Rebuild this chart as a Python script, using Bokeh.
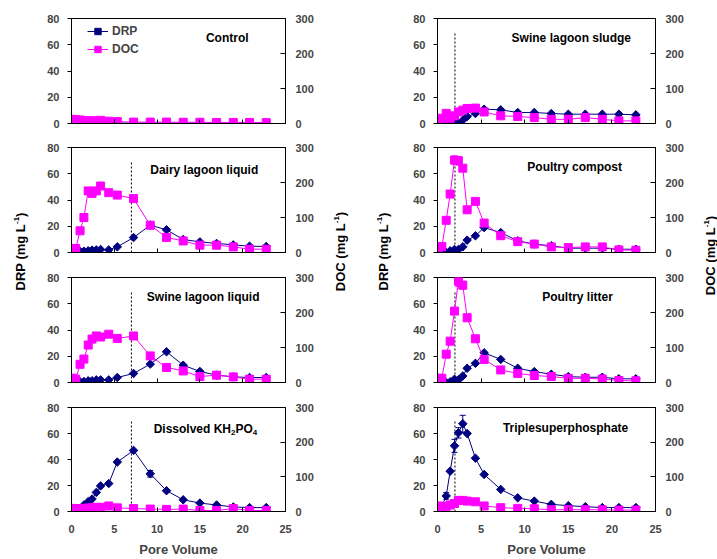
import math
from bokeh.plotting import figure
from bokeh.models import (Range1d, LinearAxis, FixedTicker, Label, Legend, LegendItem,
                          Whisker, ColumnDataSource, TeeHead)
from bokeh.layouts import row, column
from bokeh.embed import file_html
from bokeh.resources import INLINE

FONT = "Liberation Sans"
NAVY = "#000080"
MAG = "#FF00FF"

# ---------------- data ----------------
pore_volume = [0.1, 0.5, 1.0, 1.45, 1.95, 2.4, 2.9, 3.4, 4.35, 5.35, 7.25, 9.2, 11.1,
               13.05, 15.0, 16.95, 18.9, 20.8, 22.75]

drp_control = [0.8, 0.3, 0.3, 0.3, 0.3, 0.3, 0.3, 0.3, 0.3, 0.3, 0.3, 0.3, 0.3, 0.3, 0.3, 0.3, 0.3, 0.3, 0.3]
doc_control = [12, 11, 10, 8, 8, 7.5, 7.5, 9, 6.5, 5.5, 4, 4, 4, 3.5, 3.5, 3, 3, 3, 2.5]

drp_sludge = [1.5, 0.8, 0, 0, 0.5, 0.3, 2.5, 5.3, 7.6, 10.9, 10.4, 8.4, 8.4, 7.6, 7.1, 7.1, 7.1, 7.1, 6.6]
doc_sludge = [15, 12, 29, 15, 22, 33, 38, 43, 44, 33, 22, 20, 17, 12, 12, 17, 12, 7.5, 7.5]

drp_dairy = [1.3, 0.5, 0.8, 1.0, 1.3, 1.8, 2.0, 2.3, 2.0, 4.3, 11.4, 20.8, 17.3, 9.9, 8.1, 6.9, 5.8, 4.8, 4.6]
doc_dairy = [11.5, 11.5, 62, 100, 176, 169, 176, 190, 171, 164, 154, 78, 43, 33, 21, 21, 16, 9.5, 9.5]

drp_compost = [1.3, 0.5, 0, 1.3, 2.3, 2.3, 4.3, 9.4, 12.7, 19, 15.2, 8.9, 6.4, 5.1, 3.3, 3.3, 3.3, 2.5, 2.5]
doc_compost = [14, 17, 92, 167, 264, 262, 241, 122, 146, 84, 48, 31, 24, 16, 14, 16, 16, 7.5, 6.5]
doc_compost_err = [0, 0, 0, 0, 12, 12, 0, 0, 0, 0, 0, 0, 0, 0, 0, 0, 0, 0, 0]

drp_swine_liq = [1.3, 0, 0.5, 0.8, 1.3, 1.3, 2, 2, 2, 3.8, 6.9, 14, 23.4, 13.2, 8.4, 5.6, 4.3, 3.8, 3.8]
doc_swine_liq = [12.4, 9.5, 52, 67, 107, 124, 133, 130, 138, 126, 133, 76, 43, 33, 17, 21, 16, 9.5, 9.5]

drp_litter = [1.5, 0.75, 0, 0.5, 2.5, 2, 5, 10.8, 14.6, 22.6, 17.6, 10.8, 8.3, 6.3, 4.5, 4, 4, 2.8, 2.8]
doc_litter = [12, 12, 81, 118, 204, 289, 278, 185, 125, 66, 36, 26, 20, 17, 12, 12, 10, 5.7, 4.7]
doc_litter_err = [0, 0, 0, 0, 8, 15, 11, 10, 0, 0, 0, 0, 0, 0, 0, 0, 0, 0, 0]

drp_kh2po4 = [0.5, 1, 2.5, 5, 7.6, 9.6, 14.7, 19.7, 21.5, 38, 47, 29, 16, 9, 6.5, 5, 3.5, 3, 3]
doc_kh2po4 = [9, 8, 8, 9, 10, 11, 12, 12, 16, 10.5, 8.5, 7, 6, 7, 3, 3, 8.5, 3, 3]
drp_kh2po4_err = [0, 0, 0, 0, 0, 0, 0, 0, 0, 0, 0, 2.5, 0, 0, 0, 0, 0, 0, 0]

drp_tsp = [0.5, 4, 12, 31, 50.5, 60.5, 67.5, 60, 41, 28.5, 17, 10.5, 8, 5.5, 4.5, 3.7, 3, 3, 3]
doc_tsp = [16, 14, 15, 19, 23, 32, 32, 30, 28, 16, 11, 9, 8, 5, 5, 5, 5, 4, 4]
drp_tsp_err = [0, 0, 2.5, 0, 5, 4, 6.5, 0, 0, 0, 0, 0, 0, 0, 0, 0, 0, 0, 0]

zeros = [0] * len(pore_volume)

panel_names = ["Control", "Swine lagoon sludge", "Dairy lagoon liquid", "Poultry compost",
               "Swine lagoon liquid", "Poultry litter", "Dissolved KH2PO4", "Triplesuperphosphate"]
# pore volume of the dotted reference line in each panel (None = no line)
dotted_pv = [None, 2.0, 7.0, 2.0, 7.0, 2.0, 7.0, 2.0]
dotted_top = 70

x_ticks = [0, 5, 10, 15, 20, 25]
drp_ticks = [0, 20, 40, 60, 80]
doc_ticks = [0, 100, 200, 300]

# ---------------- helpers ----------------
AW = {"D": 722, "R": 722, "P": 667, "O": 778, "C": 722, " ": 278, "(": 333, ")": 333,
      "m": 889, "g": 611, "L": 611, "-": 333, "1": 556, "K": 722, "H": 722, "i": 278,
      "s": 556, "o": 611, "l": 278, "v": 556, "e": 556, "d": 611, "2": 556, "4": 556}


def tw(s, size):
    return sum(AW.get(c, 600) for c in s) * size / 1000.0


def style_text(lbl, size):
    lbl.text_font = FONT
    lbl.text_font_style = "bold"
    lbl.text_font_size = f"{size}px"
    lbl.text_color = "black"
    return lbl


def make_panel(idx, drp, doc, drp_err, doc_err, width, height, bl, br, bt, bb, bottom, legend,
               title_xy):
    p = figure(width=width, height=height, x_range=Range1d(0, 25), y_range=Range1d(0, 80),
               output_backend="svg", toolbar_location=None, tools="",
               min_border_left=bl, min_border_right=br, min_border_top=bt, min_border_bottom=bb)
    p.extra_y_ranges = {"doc": Range1d(0, 300)}
    p.xgrid.visible = False
    p.ygrid.visible = False
    p.outline_line_color = "black"
    p.outline_line_alpha = 1
    p.outline_line_width = 1

    xa = p.xaxis[0]
    xa.ticker = FixedTicker(ticks=x_ticks)
    xa.major_tick_in = 4
    xa.major_tick_out = 0
    xa.minor_tick_in = 0
    xa.minor_tick_out = 0
    xa.axis_line_color = "black"
    xa.major_tick_line_color = "black"
    xa.major_label_text_font = FONT
    xa.major_label_text_font_style = "bold"
    if bottom:
        xa.major_label_text_font_size = "11px"
        xa.major_label_standoff = 13
        xa.axis_label = "Pore Volume"
        xa.axis_label_text_font = FONT
        xa.axis_label_text_font_style = "bold"
        xa.axis_label_text_font_size = "13px"
        xa.axis_label_standoff = 6
    else:
        xa.major_label_text_font_size = "0px"
        xa.major_label_standoff = 0
        xa.major_label_overrides = {t: "" for t in x_ticks}

    ya = p.yaxis[0]
    ya.ticker = FixedTicker(ticks=drp_ticks)
    ya.major_tick_in = 0
    ya.major_tick_out = 4
    ya.minor_tick_in = 0
    ya.minor_tick_out = 0
    ya.major_label_standoff = 8
    ya.major_label_text_font = FONT
    ya.major_label_text_font_style = "bold"
    ya.major_label_text_font_size = "11px"
    ya.axis_line_color = "black"

    ra = LinearAxis(y_range_name="doc", ticker=FixedTicker(ticks=doc_ticks))
    ra.major_tick_in = 5
    ra.major_tick_out = 0
    ra.minor_tick_in = 0
    ra.minor_tick_out = 0
    ra.major_label_standoff = 10
    ra.major_label_text_font = FONT
    ra.major_label_text_font_style = "bold"
    ra.major_label_text_font_size = "11px"
    ra.axis_line_color = "black"
    p.add_layout(ra, "right")

    if dotted_pv[idx] is not None:
        p.segment(x0=[dotted_pv[idx]], y0=[0], x1=[dotted_pv[idx]], y1=[dotted_top],
                  line_color="black", line_width=1, line_dash="2 2")

    # error bars
    for vals, errs, col, rng in ((drp, drp_err, NAVY, "default"), (doc, doc_err, MAG, "doc")):
        b = [x for x, e in zip(pore_volume, errs) if e > 0]
        if b:
            up = [v + e for v, e in zip(vals, errs) if e > 0]
            lo = [v - e for v, e in zip(vals, errs) if e > 0]
            src = ColumnDataSource(dict(base=b, upper=up, lower=lo))
            w = Whisker(source=src, base="base", upper="upper", lower="lower",
                        dimension="height", line_color=col, line_width=1,
                        upper_head=TeeHead(size=6, line_color=col, line_width=1),
                        lower_head=TeeHead(size=6, line_color=col, line_width=1),
                        y_range_name=rng)
            p.add_layout(w)

    l1 = p.line(pore_volume, drp, line_color=NAVY, line_width=1)
    s1 = p.scatter(pore_volume, drp, marker="square", angle=math.pi / 4, size=6,
                   fill_color=NAVY, line_color=NAVY)
    l2 = p.line(pore_volume, doc, line_color=MAG, line_width=1, y_range_name="doc")
    s2 = p.scatter(pore_volume, doc, marker="square", size=8, fill_color=MAG, line_color=MAG,
                   y_range_name="doc")

    if legend:
        lg = Legend(items=[LegendItem(label="DRP", renderers=[l1, s1]),
                           LegendItem(label="DOC", renderers=[l2, s2])],
                    location=(16, 66), orientation="vertical")
        lg.border_line_color = None
        lg.background_fill_alpha = 0
        lg.label_text_font = FONT
        lg.label_text_font_style = "bold"
        lg.label_text_font_size = "12px"
        lg.glyph_width = 21
        lg.glyph_height = 16
        lg.label_height = 16
        lg.spacing = 2
        lg.padding = 0
        lg.margin = 0
        lg.label_standoff = 4
        p.add_layout(lg)

    name = panel_names[idx]
    tx, ty = title_xy
    if name == "Dissolved KH2PO4":
        parts = [("Dissolved KH", 12, 0), ("2", 8, -3), ("PO", 12, 0), ("4", 8, -3)]
        off = 0.0
        for txt, sz, yo in parts:
            lab = Label(x=tx, y=ty, text=txt, x_offset=off, y_offset=yo,
                        text_align="left", text_baseline="middle")
            style_text(lab, sz)
            p.add_layout(lab)
            off += tw(txt, sz)
    else:
        lab = Label(x=tx, y=ty, text=name, text_align="left", text_baseline="middle")
        style_text(lab, 12)
        p.add_layout(lab)
    return p


title_pos = [(15.7, 65.5), (8.5, 65.5), (9.2, 63.2), (10.3, 65), (8.8, 65.5), (12.0, 65),
             (9.6, 63.2), (7.5, 64.4)]

drp_sets = [drp_control, drp_sludge, drp_dairy, drp_compost, drp_swine_liq, drp_litter, drp_kh2po4, drp_tsp]
doc_sets = [doc_control, doc_sludge, doc_dairy, doc_compost, doc_swine_liq, doc_litter, doc_kh2po4, doc_tsp]
drp_errs = [zeros, zeros, zeros, zeros, zeros, zeros, drp_kh2po4_err, drp_tsp_err]
doc_errs = [zeros, zeros, zeros, doc_compost_err, zeros, doc_litter_err, zeros, zeros]

row_h = [135, 130, 130, 164]
row_bt = [18, 12, 12, 12]
row_bb = [12, 13, 13, 46]

left_figs, right_figs = [], []
for r in range(4):
    for c in range(2):
        i = r * 2 + c
        if c == 0:
            w, bl, br = 300, 41, 45
        else:
            w, bl, br = 305, 42, 45
        f = make_panel(i, drp_sets[i], doc_sets[i], drp_errs[i], doc_errs[i], w, row_h[r],
                       bl, br, row_bt[r], row_bb[r], r == 3, i == 0, title_pos[i])
        (left_figs if c == 0 else right_figs).append(f)

TOTAL_H = sum(row_h)


def label_fig(width, specs):
    f = figure(width=width, height=TOTAL_H, x_range=Range1d(0, width), y_range=Range1d(0, TOTAL_H),
               output_backend="svg", toolbar_location=None, tools="", min_border=0,
               x_axis_type=None, y_axis_type=None)
    f.outline_line_color = None
    for xc, yc_img, main in specs:
        total = tw(main, 13) + tw("-1", 8) + tw(")", 13)
        y0 = (TOTAL_H - yc_img) - total / 2.0
        pieces = [(main, 13, 0), ("-1", 8, -4.5), (")", 13, 0)]
        yy = y0
        for txt, sz, dx in pieces:
            lab = Label(x=xc + dx, y=yy, text=txt, angle=math.pi / 2,
                        text_align="left", text_baseline="middle")
            style_text(lab, sz)
            f.add_layout(lab)
            yy += tw(txt, sz)
    return f


labL = label_fig(30, [(20, 251, "DRP (mg L")])
labM = label_fig(65, [(10, 251, "DOC (mg L"), (53, 251, "DRP (mg L")])
labR = label_fig(17, [(10, 255, "DOC (mg L")])

layout = row(labL, column(*left_figs), labM, column(*right_figs), labR)

open("out.html", "w").write(file_html(layout, INLINE))
